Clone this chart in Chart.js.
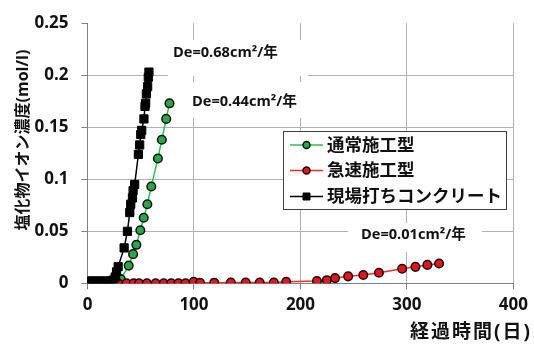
<!DOCTYPE html>
<html><head><meta charset="utf-8">
<script src="https://cdn.jsdelivr.net/npm/chart.js@4/dist/chart.umd.min.js"></script>
<style>html,body{margin:0;padding:0;background:#fff}#wrap{width:534px;height:345px;position:relative}</style>
</head><body><div id="wrap"><canvas id="c" width="534" height="345"></canvas></div>
<script>
const seriesNames = ['通常施工型', '急速施工型', '現場打ちコンクリート'];
const greenDays = [28, 31.3, 38.7, 42.8, 45.9, 49.6, 52.8, 56.2, 59.9, 66.1, 69.8, 73.9, 77];
const greenValues = [0, 0.004, 0.017, 0.028, 0.037, 0.051, 0.063, 0.076, 0.093, 0.120, 0.138, 0.158, 0.173];
const redDays = [28.8, 36.6, 43.4, 48.4, 55.8, 64, 71.6, 78.6, 85.4, 92, 99.7, 105.7, 119, 134.6, 148.6, 161.7, 175, 186.6, 215.5, 224.8, 232.5, 244.8, 259, 273.7, 295.5, 308, 319.2, 330.2];
const redValues = [0, 0, 0, 0, 0, 0, 0, 0, 0, 0, 0.0015, 0.0005, 0.0006, 0.0008, 0.0008, 0.0008, 0.0008, 0.0015, 0.0022, 0.003, 0.005, 0.0067, 0.008, 0.0101, 0.014, 0.0158, 0.0177, 0.019];
const blackDays = [0, 2, 4, 6, 8, 10, 12, 14, 16, 18, 20, 22, 24, 26, 27.3, 28.8, 34.4, 37.5, 39.7, 40.6, 42.2, 42.8, 44.3, 47.8, 49, 50, 50.9, 53, 54, 54.6, 55.3, 56.5, 57.1, 57.7];
const blackValues = [0.002, 0.002, 0.002, 0.002, 0.002, 0.002, 0.002, 0.002, 0.002, 0.002, 0.002, 0.002, 0.003, 0.006, 0.011, 0.016, 0.034, 0.050, 0.068, 0.076, 0.082, 0.089, 0.095, 0.124, 0.133, 0.143, 0.147, 0.158, 0.170, 0.173, 0.182, 0.189, 0.198, 0.203];
const xTickValues = [0, 100, 200, 300, 400];
const yTickLabels = ['0', '0.05', '0.1', '0.15', '0.2', '0.25'];
const xTitle = '経過時間(日)';
const yTitle = '塩化物イオン濃度(mol/l)';
const deLabels = ['De=0.68cm²/年', 'De=0.44cm²/年', 'De=0.01cm²/年'];

const FONT = '"Open Sans","Noto Sans CJK JP",sans-serif';
Chart.defaults.font.family = FONT;
Chart.defaults.color = '#000';

const toPts = (xs, ys) => xs.map((x, i) => ({x: x, y: ys[i]}));

const overlay = {
  id: 'overlay',
  afterDraw(chart) {
    const ctx = chart.ctx;
    ctx.save();
    // axis titles
    ctx.fillStyle = '#111';
    ctx.font = 'bold 19px ' + FONT;
    ctx.textAlign = 'right';
    ctx.textBaseline = 'middle';
    if ('letterSpacing' in ctx) ctx.letterSpacing = '2px';
    ctx.fillText(xTitle, 532, 333);
    if ('letterSpacing' in ctx) ctx.letterSpacing = '0px';
    ctx.save();
    ctx.translate(23, 140);
    ctx.rotate(-Math.PI / 2);
    ctx.textAlign = 'center';
    ctx.font = 'bold 16px ' + FONT;
    ctx.fillText(yTitle, 0, 0);
    ctx.restore();
    // De labels with white boxes
    const boxes = [
      {x: 168, y: 40, w: 140, h: 36, tx: 173, ty: 53},
      {x: 186, y: 82, w: 124, h: 36, tx: 192, ty: 102},
      {x: 348, y: 223, w: 134, h: 29, tx: 361, ty: 235}
    ];
    ctx.font = 'bold 14.6px ' + FONT;
    ctx.textAlign = 'left';
    boxes.forEach((b, i) => {
      ctx.fillStyle = '#fff';
      ctx.fillRect(b.x, b.y, b.w, b.h);
      ctx.fillStyle = '#111';
      ctx.fillText(deLabels[i], b.tx, b.ty);
    });
    // legend
    const lx = 283.5, ly = 131.5, lw = 223, lh = 78;
    ctx.fillStyle = '#fff';
    ctx.fillRect(lx, ly, lw, lh);
    ctx.strokeStyle = '#404040';
    ctx.lineWidth = 1;
    ctx.strokeRect(lx, ly, lw, lh);
    const rows = [145, 170.5, 196.5];
    ctx.font = 'bold 17.5px ' + FONT;
    chart.data.datasets.forEach((ds, i) => {
      const y = rows[i];
      ctx.strokeStyle = ds.borderColor;
      ctx.lineWidth = 1.5;
      ctx.beginPath();
      ctx.moveTo(290, y);
      ctx.lineTo(323, y);
      ctx.stroke();
      ctx.fillStyle = ds.pointBackgroundColor;
      ctx.strokeStyle = ds.pointBorderColor;
      ctx.lineWidth = ds.pointBorderWidth;
      ctx.beginPath();
      if (ds.pointStyle === 'rect') {
        ctx.rect(306.5 - 3.5, y - 3.5, 7, 7);
      } else {
        ctx.arc(306.5, y, 3.5, 0, Math.PI * 2);
      }
      ctx.fill();
      ctx.stroke();
      ctx.fillStyle = '#111';
      ctx.textAlign = 'left';
      ctx.textBaseline = 'middle';
      ctx.fillText(ds.label, 327, y + 1);
    });
    ctx.restore();
  }
};

new Chart(document.getElementById('c'), {
  type: 'scatter',
  data: {
    datasets: [
      {label: seriesNames[0], data: toPts(greenDays, greenValues), showLine: true,
       borderColor: '#2fbf4f', borderWidth: 1.5, pointStyle: 'circle', pointRadius: 4.3,
       pointBackgroundColor: '#29a84a', pointBorderColor: '#111', pointBorderWidth: 1.5, order: 3},
      {label: seriesNames[1], data: toPts(redDays, redValues), showLine: true,
       borderColor: '#ff2a2a', borderWidth: 1.5, pointStyle: 'circle', pointRadius: 4.3,
       pointBackgroundColor: '#e8141c', pointBorderColor: '#111', pointBorderWidth: 1.5, order: 2},
      {label: seriesNames[2], data: toPts(blackDays, blackValues), showLine: true,
       borderColor: '#000', borderWidth: 1.5, pointStyle: 'rect', pointRadius: 5.8,
       pointBackgroundColor: '#000', pointBorderColor: '#000', pointBorderWidth: 1, order: 1}
    ]
  },
  options: {
    responsive: false,
    animation: false,
    events: [],
    layout: {padding: {top: 20, right: 18, left: 0, bottom: 0}},
    plugins: {legend: {display: false}, tooltip: {enabled: false}},
    scales: {
      x: {
        type: 'linear', min: 0, max: 400,
        afterFit: s => { s.height = 61.7; },
        afterBuildTicks: s => { s.ticks = xTickValues.map(v => ({value: v})); },
        ticks: {font: {size: 17, weight: 'bold'}, padding: 6, color: '#111'},
        grid: {color: c => c.tick && c.tick.value === 0 ? 'rgba(0,0,0,0)' : '#b0b0b0', tickColor: '#808080', tickLength: 6, lineWidth: 1},
        border: {color: '#808080', width: 1}
      },
      y: {
        type: 'linear', min: 0, max: 0.25,
        afterFit: s => { s.width = 87.5; },
        afterBuildTicks: s => { s.ticks = yTickLabels.map(t => ({value: parseFloat(t)})); },
        ticks: {font: {size: 17, weight: 'bold'}, padding: 13, color: '#111',
                callback: (v, i) => yTickLabels[i]},
        grid: {color: c => (c.tick && (c.tick.value === 0 || c.tick.value === 0.25)) ? 'rgba(0,0,0,0)' : '#b0b0b0', tickColor: '#808080', tickLength: 6, lineWidth: 1},
        border: {color: '#808080', width: 1}
      }
    }
  },
  plugins: [overlay]
});
</script>
</body></html>
